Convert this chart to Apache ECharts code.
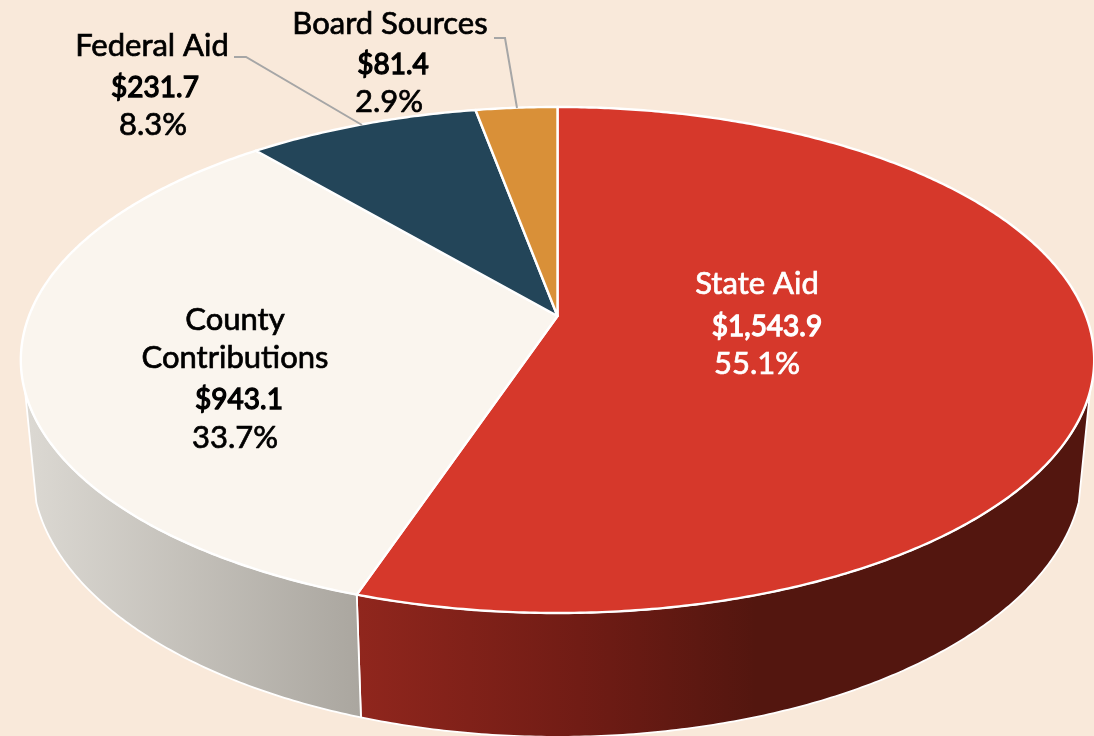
<!DOCTYPE html>
<html>
<head>
<meta charset="utf-8">
<script src="https://cdn.jsdelivr.net/npm/echarts@6/dist/echarts.min.js"></script>
<style>html,body{margin:0;padding:0;background:#f9e9da}#c{width:1094px;height:736px}</style>
</head>
<body>
<div id="c"></div>
<script>
const categories = ['State Aid', 'County Contributions', 'Federal Aid', 'Board Sources'];
const amounts = [1543.9, 943.1, 231.7, 81.4];
const percents = [55.1, 33.7, 8.3, 2.9];
const amountLabels = ['$1,543.9', '$943.1', '$231.7', '$81.4'];

const topColors = ['#d6382b', '#faf5ee', '#234559', '#d99038'];
const nameLines = [['State Aid'], ['County', 'Contributions'], ['Federal Aid'], ['Board Sources']];
const textColors = ['#ffffff', '#000000', '#000000', '#000000'];
// label line centres: [x, y] for each text line
const labelLayout = [
  [[757, 284], [767, 327], [757, 364]],
  [[235, 320], [235, 358], [239, 400], [235, 438]],
  [[152, 46], [155, 88], [153, 125]],
  [[390, 24], [393, 65], [389, 102]]
];
const leaders = [null, null, [[234, 57], [246, 57], [362, 125]], [[494, 38], [505, 38], [517, 108]]];

const total = amounts.reduce((a, b) => a + b, 0);
const sideGradients = [
  new echarts.graphic.LinearGradient(358, 0, 800, 0, [
    {offset: 0, color: '#90261d'}, {offset: 0.5, color: '#711c15'}, {offset: 0.9, color: '#53160f'}, {offset: 1, color: '#53160f'}
  ], true),
  new echarts.graphic.LinearGradient(23, 0, 362, 0, [
    {offset: 0, color: '#dcd9d3'}, {offset: 1, color: '#aaa69f'}
  ], true),
  '#1a3442', '#a56d2a'
];

// projective map of the pie disc onto the page
const CX = 557.5, CY = 316, AX = 528.5, BY = -190.4, PC = 0.1739;
function project(a) {
  const u = Math.sin(a), v = Math.cos(a), w = 1 + PC * v;
  return [CX + AX * u / w, (CY + BY * v) / w];
}
function lower(p) {
  return [CX + (p[0] - CX) * 0.979, p[1] + 110.5 + (p[1] - 390) * 0.06];
}
function arc(a0, a1) {
  const n = Math.max(2, Math.ceil((a1 - a0) / (Math.PI / 360)));
  const pts = [];
  for (let i = 0; i <= n; i++) pts.push(project(a0 + (a1 - a0) * i / n));
  return pts;
}
let running = 0;
const sliceData = amounts.map((v, i) => {
  const d = {value: [v, running, i], name: categories[i]};
  running += v;
  return d;
});
function angles(api) {
  const v = api.value(0), s = api.value(1);
  return [s / total * 2 * Math.PI, (s + v) / total * 2 * Math.PI];
}

const option = {
  backgroundColor: '#f9e9da',
  animation: false,
  series: [
    {
      type: 'custom', coordinateSystem: 'none', silent: true, z: 1, data: sliceData,
      renderItem(params, api) {
        const [a0, a1] = angles(api);
        const pts = arc(a0, a1).filter(p => p[1] >= 390);
        if (pts.length < 2) return {type: 'group', children: []};
        const poly = pts.concat(pts.map(lower).reverse());
        return {type: 'polygon', shape: {points: poly},
          style: {fill: sideGradients[api.value(2)], stroke: '#fff', lineWidth: 1.8, lineJoin: 'round'}};
      }
    },
    {
      type: 'custom', coordinateSystem: 'none', silent: true, z: 2, data: sliceData,
      renderItem(params, api) {
        const [a0, a1] = angles(api);
        const poly = [[CX, CY]].concat(arc(a0, a1));
        return {type: 'polygon', shape: {points: poly},
          style: {fill: topColors[api.value(2)], stroke: '#fff', lineWidth: 2.4, lineJoin: 'round'}};
      }
    },
    {
      type: 'custom', coordinateSystem: 'none', silent: true, z: 3, data: sliceData,
      renderItem(params, api) {
        const i = api.value(2);
        const lines = nameLines[i].concat([amountLabels[i], percents[i].toFixed(1) + '%']);
        const children = lines.map((t, k) => {
          const isAmount = k === nameLines[i].length;
          return {
            type: 'text',
            style: {
              text: t, x: labelLayout[i][k][0], y: labelLayout[i][k][1],
              align: 'center', verticalAlign: 'middle', fill: textColors[i],
              fontFamily: 'Lato', fontSize: isAmount ? 28 : 31,
              fontWeight: 400,
              stroke: textColors[i], lineWidth: isAmount ? 1.3 : 0.7
            }
          };
        });
        if (leaders[i]) children.push({
          type: 'polyline', shape: {points: leaders[i]},
          style: {fill: 'none', stroke: '#a6a6a6', lineWidth: 2}
        });
        return {type: 'group', children};
      }
    }
  ]
};
echarts.init(document.getElementById('c'), null, {renderer: 'canvas'}).setOption(option);
</script>
</body>
</html>
